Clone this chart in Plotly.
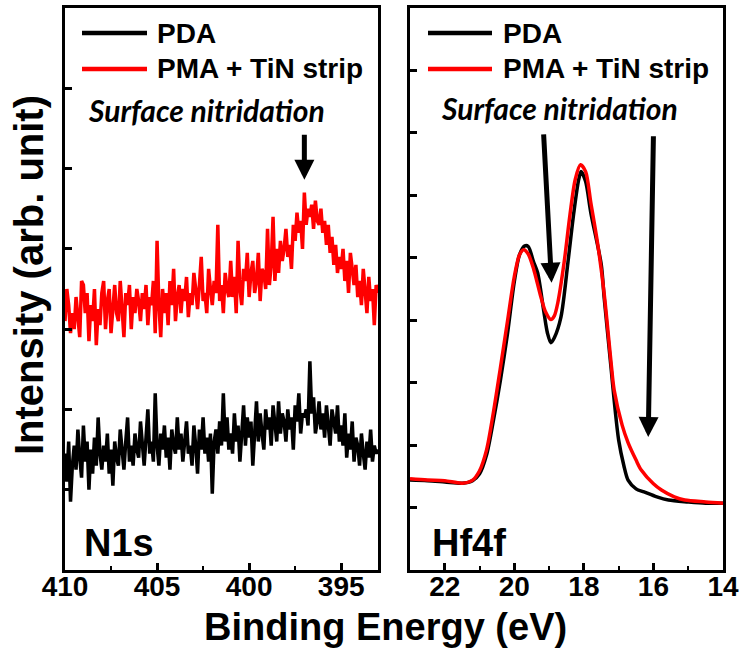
import numpy as np
import plotly.graph_objects as go

W, H = 740, 653

# ---------------- N1s spectra (binding energy grid 410 -> 393 eV, 0.1 eV step) ----------------
n1s_start, n1s_step, n1s_count = 410.0, -0.1, 171
n1s_energy = np.round(n1s_start + n1s_step * np.arange(n1s_count), 2)

n1s_pma = [
    3.1, 3.5, 3.3, 2.95, 3.2, 3.0, 3.4, 3.15, 2.9, 3.6,
    3.55, 3.2, 3.45, 2.85, 3.3, 3.1, 3.5, 2.8, 3.25, 3.05,
    3.45, 3.6, 3.0, 3.35, 3.5, 2.95, 3.3, 3.55, 3.2, 3.1,
    3.6, 3.25, 2.9, 3.45, 3.3, 3.55, 3.0, 3.4, 3.2, 3.5,
    3.35, 3.1, 3.45, 3.25, 3.55, 3.05, 3.4, 3.3, 3.6, 2.95,
    4.1, 3.3, 2.9, 3.5, 3.2, 3.45, 3.05, 3.6, 3.3, 3.75,
    3.1, 3.4, 3.55, 3.2, 3.5, 3.35, 3.65, 3.15, 3.45, 3.3,
    3.7, 3.5, 3.25, 3.55, 3.9, 3.35, 3.45, 3.2, 3.75, 3.5,
    3.3, 3.6, 3.45, 4.3, 3.35, 3.55, 3.2, 3.7, 3.5, 3.4,
    3.85, 3.4, 3.65, 3.2, 4.1, 3.5, 3.3, 3.75, 3.6, 3.95,
    3.4, 3.7, 3.85, 3.45, 3.6, 3.95, 3.35, 3.75, 3.7, 3.5,
    4.25, 3.55, 3.8, 4.4, 3.6, 4.0, 3.7, 4.1, 3.85, 4.0,
    4.25, 3.9, 4.05, 3.75, 4.3, 4.1, 4.45, 4.2, 4.35, 4.0,
    4.7, 4.3, 4.5, 4.4, 4.55, 4.25, 4.6, 4.35, 4.3, 4.5,
    4.2, 4.35, 4.05, 4.3, 3.95, 4.15, 3.8, 4.05, 3.7, 3.9,
    3.75, 4.0, 3.6, 3.85, 3.45, 3.95, 3.7, 3.55, 3.8, 3.4,
    3.6, 3.3, 3.75, 3.45, 3.2, 3.65, 3.35, 3.5, 3.05, 3.55,
    3.45,
]

n1s_pda = [
    1.45, 1.1, 1.6, 0.85, 1.3, 1.55, 1.25, 1.75, 1.4, 1.15,
    1.8, 1.35, 1.6, 1.0, 1.5, 1.2, 1.65, 1.3, 1.9, 1.45,
    1.25, 1.55, 1.35, 1.7, 1.2, 1.5, 1.05, 1.6, 1.4, 1.3,
    1.75, 1.45, 1.25, 1.6, 1.9, 1.35, 1.55, 1.3, 1.7, 1.5,
    1.4, 1.85, 1.55, 1.3, 1.65, 2.0, 1.45, 1.6, 1.35, 2.2,
    1.55, 1.3, 1.7, 1.5, 1.8, 1.4, 1.65, 1.25, 1.75, 1.55,
    1.45, 1.9, 1.5, 1.7, 1.35, 1.6, 1.85, 1.45, 1.55, 1.3,
    1.8, 1.55, 1.2, 1.75, 1.5, 1.9, 1.45, 1.65, 1.35, 1.7,
    0.95, 1.6, 1.75, 1.45, 1.85, 1.55, 2.2, 1.6, 1.9, 1.5,
    1.7, 1.45, 1.95, 1.6, 1.8, 1.35, 1.75, 2.05, 1.55, 1.9,
    1.65, 1.85, 1.3, 1.75, 2.1, 1.6, 1.95, 1.7, 1.5, 2.0,
    1.75, 1.9, 1.55, 2.05, 1.8, 1.6, 2.1, 1.7, 1.95, 1.85,
    1.6, 2.0, 1.75, 1.9, 1.5, 2.05, 1.85, 2.2, 1.7, 1.95,
    1.9, 2.0, 1.8, 2.6, 1.95, 2.15, 1.7, 1.85, 2.1, 1.75,
    1.95, 1.65, 2.05, 1.8, 1.55, 2.0, 1.85, 1.7, 2.05, 1.6,
    1.8, 1.55, 1.95, 1.4, 1.7, 1.5, 1.85, 1.35, 1.65, 1.55,
    1.3, 1.7, 1.45, 1.25, 1.6, 1.4, 1.75, 1.35, 1.55, 1.45,
    1.5,
]

# ---------------- Hf4f spectra ----------------
hf_pda_energy = [23.0, 22.5, 22.0, 21.5, 21.2, 21.0, 20.8, 20.6, 20.4, 20.2, 20.0,
                 19.85, 19.7, 19.6, 19.45, 19.33, 19.16, 19.05, 18.95, 18.85, 18.66,
                 18.46, 18.29, 18.15, 18.08, 17.95, 17.8, 17.5, 17.42, 17.22, 17.13,
                 17.0, 16.85, 16.73, 16.5, 16.27, 15.9, 15.57, 15.0, 14.5, 14.0]
hf_pda = [1.44, 1.43, 1.41, 1.39, 1.43, 1.54, 1.84, 2.40, 3.04, 3.77, 4.62,
          5.05, 5.19, 5.18, 4.94, 4.76, 4.17, 3.80, 3.64, 3.72, 4.05,
          4.92, 5.72, 6.25, 6.38, 6.22, 5.72, 4.89, 4.38, 3.24, 2.72,
          2.08, 1.67, 1.44, 1.30, 1.25, 1.17, 1.12, 1.09, 1.07, 1.07]

hf_pma_energy = [23.0, 22.5, 22.0, 21.5, 21.2, 21.0, 20.8, 20.6, 20.4, 20.2, 20.0,
                 19.85, 19.73, 19.6, 19.44, 19.24, 19.1, 18.95, 18.85, 18.75, 18.57,
                 18.4, 18.25, 18.1, 17.95, 17.8, 17.6, 17.42, 17.22, 17.13, 16.9,
                 16.73, 16.5, 16.35, 16.0, 15.77, 15.4, 15.1, 14.5, 14.0]
hf_pma = [1.46, 1.44, 1.43, 1.39, 1.44, 1.59, 1.92, 2.53, 3.24, 3.97, 4.70,
          5.05, 5.13, 5.06, 4.81, 4.38, 4.13, 4.01, 4.07, 4.28, 4.92,
          5.69, 6.25, 6.49, 6.38, 5.88, 5.21, 4.44, 3.33, 2.88, 2.32,
          2.04, 1.76, 1.60, 1.38, 1.28, 1.17, 1.12, 1.09, 1.07]

series_names = ["PDA", "PMA + TiN strip"]
series_colors = ["#000000", "#ff0000"]

n1s_ticks = [410, 405, 400, 395]
hf_ticks = [22, 20, 18, 16, 14]

SANS = "Liberation Sans, Arial, sans-serif"
ITALIC = "Lato, Open Sans, sans-serif"


def px(x):
    return x / W


def py(y):
    return 1 - y / H


fig = go.Figure()

# N1s panel (left)
fig.add_trace(go.Scatter(x=n1s_energy, y=n1s_pma, mode="lines", name=series_names[1],
                         line=dict(color=series_colors[1], width=3.5), xaxis="x", yaxis="y"))
fig.add_trace(go.Scatter(x=n1s_energy, y=n1s_pda, mode="lines", name=series_names[0],
                         line=dict(color=series_colors[0], width=3.5), xaxis="x", yaxis="y"))

# Hf4f panel (right)
fig.add_trace(go.Scatter(x=hf_pda_energy, y=hf_pda, mode="lines", name=series_names[0],
                         line=dict(color=series_colors[0], width=3.5, shape="spline", smoothing=0.8),
                         xaxis="x2", yaxis="y2"))
fig.add_trace(go.Scatter(x=hf_pma_energy, y=hf_pma, mode="lines", name=series_names[1],
                         line=dict(color=series_colors[1], width=3.5, shape="spline", smoothing=0.8),
                         xaxis="x2", yaxis="y2"))

axis_common = dict(showline=True, linewidth=3, linecolor="black", mirror=True,
                   showgrid=False, zeroline=False, ticks="inside", ticklen=7,
                   tickwidth=2.5, tickcolor="black", automargin=False)

tick_font = dict(family=SANS, size=28, color="black", weight="bold")
y_dom = [py(570), py(8)]

fig.update_layout(
    width=W, height=H,
    margin=dict(l=0, r=0, t=0, b=0, autoexpand=False),
    paper_bgcolor="white", plot_bgcolor="white",
    showlegend=False,
    xaxis=dict(domain=[px(65), px(378)], range=[410, 393], tickvals=n1s_ticks,
               minor=dict(tickvals=[407.5, 402.5, 397.5], ticks="inside", ticklen=4,
                          tickwidth=2, tickcolor="black"),
               tickfont=tick_font, ticklabeloverflow="allow", ticklabelstandoff=-11,
               anchor="y", **axis_common),
    yaxis=dict(domain=y_dom, range=[0, 7], dtick=1, showticklabels=False,
               anchor="x", **axis_common),
    xaxis2=dict(domain=[px(410), px(723)], range=[23, 14], tickvals=hf_ticks,
                minor=dict(tickvals=[21, 19, 17, 15], ticks="inside", ticklen=4,
                           tickwidth=2, tickcolor="black"),
                tickfont=tick_font, ticklabeloverflow="allow", ticklabelstandoff=-11,
                anchor="y2", **axis_common),
    yaxis2=dict(domain=y_dom, range=[0, 9], dtick=1, showticklabels=False,
                anchor="x2", **axis_common),
)

# Hand-drawn legends in each panel
shapes = []
annotations = []
legend_rows = [(33, 0), (69, 1)]
for x0, x1, xt in [(82, 147, 155), (428, 492, 501)]:
    for yrow, idx in legend_rows:
        shapes.append(dict(type="line", xref="paper", yref="paper",
                           x0=px(x0), x1=px(x1), y0=py(yrow), y1=py(yrow),
                           line=dict(color=series_colors[idx], width=4.5)))
        annotations.append(dict(text=series_names[idx], xref="paper", yref="paper",
                                x=px(xt), y=py(yrow), xanchor="left", yanchor="middle",
                                showarrow=False,
                                font=dict(family=SANS, size=28, color="black", weight="bold")))

# Panel notes
for xt, yt in [(86, 110), (439, 108)]:
    annotations.append(dict(text="Surface nitridation", xref="paper", yref="paper",
                            x=px(xt), y=py(yt), xanchor="left", yanchor="middle",
                            showarrow=False,
                            font=dict(family=ITALIC, size=30, color="black",
                                      weight="bold", style="italic")))

for label, xt in [("N1s", 82), ("Hf4f", 430)]:
    annotations.append(dict(text=label, xref="paper", yref="paper",
                            x=px(xt), y=py(543), xanchor="left", yanchor="middle",
                            showarrow=False,
                            font=dict(family=SANS, size=38, color="black", weight="bold")))

# Arrows marking the nitridation features
arrows = [
    ("x", "y", 397.0, 5.44, 397.0, 4.86),
    ("x2", "y2", 19.16, 7.0, 18.93, 4.60),
    ("x2", "y2", 16.0, 6.97, 16.15, 2.13),
]
for xr, yr, xtail, ytail, xhead, yhead in arrows:
    annotations.append(dict(text="", xref=xr, yref=yr, axref=xr, ayref=yr,
                            x=xhead, y=yhead, ax=xtail, ay=ytail,
                            showarrow=True, arrowhead=2, arrowsize=0.8, arrowwidth=5,
                            arrowcolor="black"))

# Axis titles
annotations.append(dict(text="Binding Energy (eV)", xref="paper", yref="paper",
                        x=px(385), y=py(627), xanchor="center", yanchor="middle",
                        showarrow=False,
                        font=dict(family=SANS, size=38, color="black", weight="bold")))
annotations.append(dict(text="Intensity (arb. unit)", xref="paper", yref="paper",
                        x=px(29), y=py(275), xanchor="center", yanchor="middle",
                        textangle=-90, showarrow=False,
                        font=dict(family=SANS, size=40, color="black", weight="bold")))

fig.update_layout(shapes=shapes, annotations=annotations)

fig.write_html("out.html")
